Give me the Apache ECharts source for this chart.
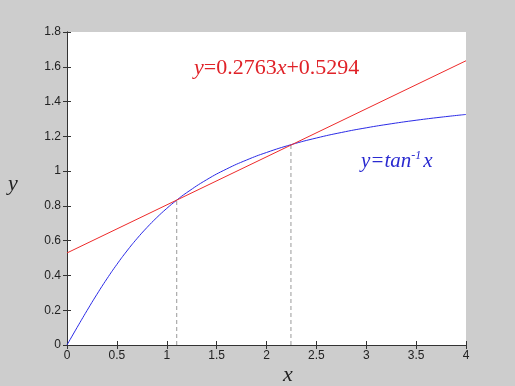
<!DOCTYPE html>
<html>
<head>
<meta charset="utf-8">
<script src="https://cdn.jsdelivr.net/npm/echarts@6/dist/echarts.min.js"></script>
<style>
html,body{margin:0;padding:0;background:#cdcdcd;}
#c{width:515px;height:386px;}
</style>
</head>
<body>
<div id="c"></div>
<script>
// x values and read arctan curve values
var curveX = [0, 0.1, 0.2, 0.3, 0.4, 0.5, 0.6, 0.7, 0.8, 0.9, 1.0, 1.1, 1.2, 1.4, 1.6, 1.8, 2.0, 2.25, 2.5, 2.75, 3.0, 3.25, 3.5, 3.75, 4.0];
var curveY = [0, 0.0997, 0.1974, 0.2915, 0.3805, 0.4636, 0.5404, 0.6107, 0.6747, 0.7328, 0.7854, 0.8330, 0.8761, 0.9505, 1.0122, 1.0637, 1.1071, 1.1526, 1.1903, 1.2220, 1.2490, 1.2722, 1.2925, 1.3102, 1.3258];
// straight line endpoints
var lineX = [0, 4];
var lineY = [0.5294, 1.6346];
// intersection points (dashed drops)
var crossX = [1.1, 2.245];
var crossY = [0.8333, 1.1497];
var xTicks = [0, 0.5, 1, 1.5, 2, 2.5, 3, 3.5, 4];
var yTicks = [0, 0.2, 0.4, 0.6, 0.8, 1, 1.2, 1.4, 1.6, 1.8];

var chart = echarts.init(document.getElementById('c'));
function zip(a, b) { return a.map(function (v, i) { return [v, b[i]]; }); }
var dashSeries = crossX.map(function (x, i) {
  return {
    type: 'line', data: [[x, 0], [x, crossY[i]]], symbol: 'none', silent: true,
    lineStyle: { color: '#999999', width: 1, type: [4, 3] }, z: 1
  };
});
var axisLine = { show: true, lineStyle: { color: '#333333', width: 1 } };
var tick = { show: true, inside: true, length: 4, lineStyle: { color: '#333333' } };
var lbl = { color: '#222222', fontFamily: 'Liberation Sans, Arial', fontSize: 12 };
chart.setOption({
  backgroundColor: '#cdcdcd',
  animation: false,
  grid: { left: 67, top: 32, width: 399, height: 313, show: true, backgroundColor: '#ffffff', borderWidth: 0 },
  xAxis: [
    { type: 'value', min: 0, max: 4, interval: 0.5, position: 'bottom', axisLine: axisLine, axisTick: tick, splitLine: { show: false },
      axisLabel: Object.assign({ margin: 5, formatter: function (v) { return String(+v.toFixed(2)); } }, lbl) },
    { type: 'value', min: 0, max: 4, interval: 0.5, position: 'top', axisLine: axisLine, axisTick: tick, splitLine: { show: false }, axisLabel: { show: false } }
  ],
  yAxis: [
    { type: 'value', min: 0, max: 1.8, interval: 0.2, position: 'left', axisLine: axisLine, axisTick: tick, splitLine: { show: false },
      axisLabel: Object.assign({ margin: 6, formatter: function (v) { return String(+v.toFixed(2)); } }, lbl) },
    { type: 'value', min: 0, max: 1.8, interval: 0.2, position: 'right', axisLine: axisLine, axisTick: tick, splitLine: { show: false }, axisLabel: { show: false } }
  ],
  series: dashSeries.concat([
    { type: 'line', data: zip(curveX, curveY), smooth: true, symbol: 'none', lineStyle: { color: '#2a2ae6', width: 1 }, z: 3 },
    { type: 'line', data: zip(lineX, lineY), symbol: 'none', lineStyle: { color: '#ee2a2a', width: 1 }, z: 4 }
  ]),
  graphic: [
    { type: 'text', left: 194, top: 57, style: { rich: {
        i: { fontFamily: 'Liberation Serif, Times New Roman', fontStyle: 'italic', fontSize: 22, fill: '#e02228' },
        n: { fontFamily: 'Liberation Serif, Times New Roman', fontSize: 22, fill: '#e02228' } },
        text: '{i|y}{n|=0.2763}{i|x}{n|+0.5294}' } },
    { type: 'text', left: 361, top: 150, style: { rich: {
        i: { fontFamily: 'Liberation Serif, Times New Roman', fontStyle: 'italic', fontSize: 21, fill: '#2a2ad0' },
        s: { fontFamily: 'Liberation Serif, Times New Roman', fontStyle: 'italic', fontSize: 12, fill: '#2a2ad0', verticalAlign: 'top', padding: [0, 2, 10, 0] } },
        text: '{i|y=tan}{s|-1}{i|x}' } },
    { type: 'text', left: 8, top: 173, style: { text: 'y', font: 'italic 22px Liberation Serif, Times New Roman', fill: '#222222' } },
    { type: 'text', left: 283, top: 364, style: { text: 'x', font: 'italic 22px Liberation Serif, Times New Roman', fill: '#222222' } }
  ]
});
</script>
</body>
</html>
